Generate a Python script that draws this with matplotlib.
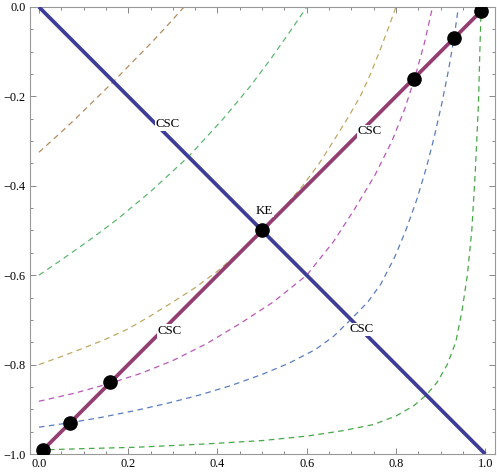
import matplotlib
matplotlib.use("Agg")
import matplotlib.pyplot as plt
from matplotlib.ticker import MultipleLocator

plt.rcParams['font.family'] = ['Liberation Serif', 'DejaVu Serif']
plt.rcParams['axes.unicode_minus'] = True

# dashed curves
brown_x = [0, 0.04, 0.08, 0.133, 0.167, 0.200, 0.252, 0.289, 0.325]
brown_y = [-0.325, -0.289, -0.252, -0.200, -0.167, -0.133, -0.080, -0.040, 0]

green1_x = [0, 0.05, 0.114, 0.178, 0.25, 0.335, 0.413, 0.473, 0.521, 0.566, 0.6]
green1_y = [-0.6, -0.566, -0.521, -0.473, -0.413, -0.335, -0.25, -0.178, -0.114, -0.05, 0]

olive_x = [0, 0.05, 0.10, 0.15, 0.20, 0.25, 0.30, 0.35, 0.40, 0.45, 0.50,
           0.548, 0.591, 0.628, 0.66, 0.691, 0.720, 0.743, 0.763, 0.782, 0.80]
olive_y = [-0.80, -0.782, -0.763, -0.743, -0.720, -0.691, -0.66, -0.628, -0.591, -0.548, -0.50,
           -0.45, -0.40, -0.35, -0.30, -0.25, -0.20, -0.15, -0.10, -0.05, 0]

magenta_x = [0, 0.08, 0.159, 0.23, 0.30, 0.376, 0.451, 0.525, 0.6,
             0.660, 0.708, 0.753, 0.791, 0.819, 0.842, 0.864, 0.882]
magenta_y = [-0.882, -0.864, -0.842, -0.819, -0.791, -0.753, -0.708, -0.660, -0.6,
             -0.525, -0.451, -0.376, -0.30, -0.23, -0.159, -0.08, 0]

blue_x = [0, 0.07, 0.14, 0.215, 0.29, 0.36, 0.43, 0.50, 0.56, 0.62, 0.66, 0.699,
          0.737, 0.766, 0.797, 0.822, 0.847, 0.868, 0.886, 0.903, 0.918, 0.930, 0.940]
blue_y = [-0.940, -0.930, -0.918, -0.903, -0.886, -0.868, -0.847, -0.822, -0.797, -0.766, -0.737, -0.699,
          -0.66, -0.62, -0.56, -0.50, -0.43, -0.36, -0.29, -0.215, -0.14, -0.07, 0]

green2_x = [0, 0.1, 0.215, 0.365, 0.5, 0.6, 0.68, 0.75, 0.80, 0.84, 0.868,
            0.892, 0.915, 0.934, 0.948, 0.960, 0.970, 0.978, 0.985, 0.988, 0.991]
green2_y = [-0.991, -0.988, -0.985, -0.978, -0.970, -0.960, -0.948, -0.934, -0.915, -0.892, -0.868,
            -0.84, -0.80, -0.75, -0.68, -0.60, -0.50, -0.365, -0.215, -0.10, 0]

# the two solid lines
csc1_x = [0, 1]
csc1_y = [0, -1]
csc2_x = [0.01, 0.99]
csc2_y = [-0.99, -0.01]

# black dots on the second line
dot_x = [0.01, 0.07, 0.16, 0.5, 0.84, 0.93, 0.99]
dot_y = [-0.99, -0.93, -0.84, -0.5, -0.16, -0.07, -0.01]

labels = ["CSC", "CSC", "CSC", "CSC", "KE"]
label_x = [0.289, 0.723, 0.742, 0.293, 0.505]
label_y = [-0.262, -0.721, -0.278, -0.725, -0.456]

fig = plt.figure(figsize=(4.97, 4.75), dpi=100)
ax = fig.add_axes([0.0604, 0.0442, 0.9356, 0.9411])

dash = (0, (4.5, 3.5))
curves = [
    (brown_x, brown_y, '#b5895b'),
    (green1_x, green1_y, '#5cb870'),
    (olive_x, olive_y, '#bfa862'),
    (magenta_x, magenta_y, '#b857b8'),
    (blue_x, blue_y, '#5a7cc2'),
    (green2_x, green2_y, '#48a848'),
]
for cx, cy, col in curves:
    ax.plot(cx, cy, color=col, lw=0.9, linestyle=dash, zorder=2)

ax.plot(csc1_x, csc1_y, color='#3d3d99', lw=2.7, zorder=3, solid_capstyle='butt')
ax.plot(csc2_x, csc2_y, color='#943d70', lw=2.7, zorder=3, solid_capstyle='butt')
ax.plot(dot_x, dot_y, 'o', color='black', ms=9.5, zorder=4, linestyle='none')

for t, lx, ly in zip(labels, label_x, label_y):
    ax.text(lx, ly, t, fontsize=9.3, ha='center', va='center', zorder=5,
            bbox=dict(facecolor='white', edgecolor='none', pad=0.5))

ax.set_xlim(-0.02, 1.022)
ax.set_ylim(-1.0, 0.0)

ax.xaxis.set_major_locator(MultipleLocator(0.2))
ax.xaxis.set_minor_locator(MultipleLocator(0.05))
ax.yaxis.set_major_locator(MultipleLocator(0.2))
ax.yaxis.set_minor_locator(MultipleLocator(0.05))
ax.xaxis.set_major_formatter(plt.FuncFormatter(lambda v, p: f"{v:.1f}".replace('-', '\u2212')))
ax.yaxis.set_major_formatter(plt.FuncFormatter(lambda v, p: f"{v:.1f}".replace('-', '\u2212')))

ax.tick_params(which='both', direction='in', top=True, right=True, colors='#888888',
               labelcolor='black', labelsize=8.8, width=0.7)
ax.tick_params(which='major', length=4, pad=3)
ax.tick_params(which='minor', length=2.2)
for s in ax.spines.values():
    s.set_color('#999999')
    s.set_linewidth(0.8)

fig.savefig('out.png', dpi=100)
